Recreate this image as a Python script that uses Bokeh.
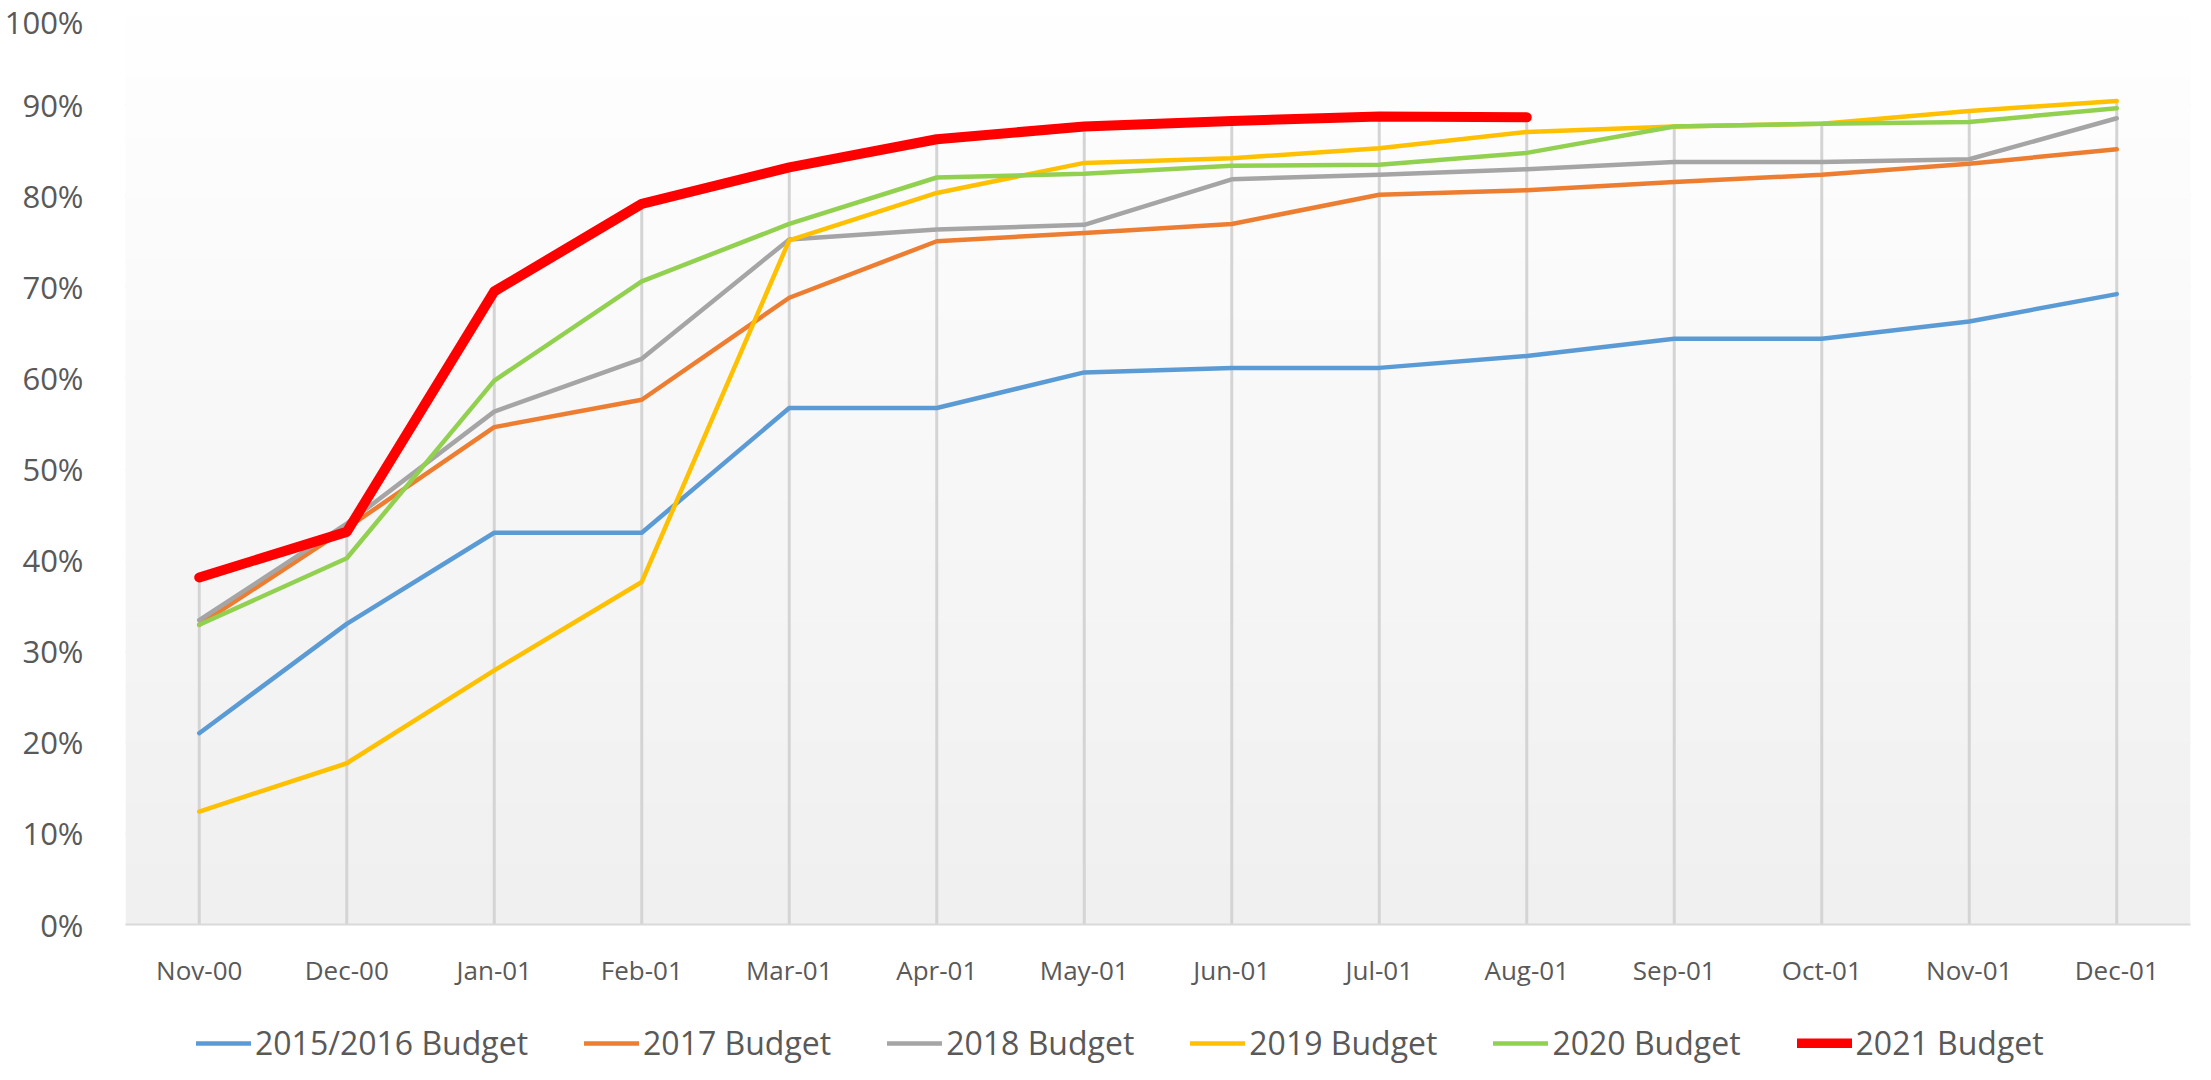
import numpy as np
from bokeh.plotting import figure
from bokeh.layouts import column
from bokeh.models import Range1d, FixedTicker, Legend, LegendItem
from bokeh.embed import file_html
from bokeh.resources import INLINE

months = ["Nov-00", "Dec-00", "Jan-01", "Feb-01", "Mar-01", "Apr-01", "May-01",
          "Jun-01", "Jul-01", "Aug-01", "Sep-01", "Oct-01", "Nov-01", "Dec-01"]

budget_2015_2016 = [0.210, 0.330, 0.430, 0.430, 0.567, 0.567, 0.606, 0.611, 0.611, 0.624, 0.643, 0.643, 0.662, 0.692]
budget_2017 = [0.329, 0.435, 0.546, 0.576, 0.688, 0.750, 0.759, 0.769, 0.801, 0.806, 0.815, 0.823, 0.835, 0.851]
budget_2018 = [0.334, 0.440, 0.563, 0.621, 0.752, 0.763, 0.768, 0.818, 0.823, 0.829, 0.837, 0.837, 0.840, 0.885]
budget_2019 = [0.124, 0.177, 0.279, 0.376, 0.751, 0.803, 0.836, 0.841, 0.852, 0.870, 0.876, 0.879, 0.893, 0.904]
budget_2020 = [0.329, 0.402, 0.597, 0.706, 0.769, 0.820, 0.824, 0.833, 0.834, 0.847, 0.876, 0.879, 0.881, 0.896]
budget_2021 = [0.381, 0.431, 0.695, 0.791, 0.831, 0.862, 0.876, 0.882, 0.887, 0.886]

series_names = ["2015/2016 Budget", "2017 Budget", "2018 Budget", "2019 Budget", "2020 Budget", "2021 Budget"]
series_values = [budget_2015_2016, budget_2017, budget_2018, budget_2019, budget_2020, budget_2021]
series_colors = ["#5B9BD5", "#ED7D31", "#A5A5A5", "#FFC000", "#92D050", "#FF0000"]
series_widths = [4.5, 4.5, 4.5, 4.5, 4.5, 10]

y_ticks = [0.0, 0.1, 0.2, 0.3, 0.4, 0.5, 0.6, 0.7, 0.8, 0.9, 1.0]
y_tick_labels = ["0%", "10%", "20%", "30%", "40%", "50%", "60%", "70%", "80%", "90%", "100%"]

FONT = "Open Sans"
TEXT_COLOR = "#595959"
W = 2195

p = figure(width=W, height=990, output_backend="svg", toolbar_location=None,
           x_range=Range1d(-0.5, len(months) - 0.5), y_range=Range1d(0, 1),
           min_border_left=125, min_border_right=5, min_border_top=13, min_border_bottom=66)
p.outline_line_color = None
p.background_fill_color = "white"
p.border_fill_color = "white"

# vertical gradient background of the plot area
n = 256
g = np.linspace(0xF0, 0xFF, n).astype(np.uint32)
img = np.zeros((n, 1), dtype=np.uint32)
view = img.view(dtype=np.uint8).reshape((n, 1, 4))
view[:, 0, 0] = g
view[:, 0, 1] = g
view[:, 0, 2] = g
view[:, 0, 3] = 255
p.image_rgba(image=[img], x=-0.5, y=0, dw=len(months), dh=1)

# drop lines from the highest series value at each month
xs = list(range(len(months)))
tops = []
for i in xs:
    vals = [s[i] for s in series_values if i < len(s)]
    tops.append(max(vals))
p.segment(x0=xs, y0=[0] * len(xs), x1=xs, y1=tops, line_color="#d4d4d4", line_width=3)

for name, vals, col, w in zip(series_names, series_values, series_colors, series_widths):
    p.line(list(range(len(vals))), vals, line_color=col, line_width=w,
           line_cap="round", line_join="round")

# axes
p.xaxis.ticker = FixedTicker(ticks=xs)
p.xaxis.major_label_overrides = {i: m for i, m in enumerate(months)}
p.xaxis.axis_line_color = "#d9d9d9"
p.xaxis.axis_line_width = 2
p.xaxis.major_tick_line_color = None
p.xaxis.minor_tick_line_color = None
p.xaxis.major_label_text_font = FONT
p.xaxis.major_label_text_font_size = "26px"
p.xaxis.major_label_text_color = TEXT_COLOR
p.xaxis.major_label_standoff = 21

p.yaxis.ticker = FixedTicker(ticks=y_ticks)
p.yaxis.major_label_overrides = {t: l for t, l in zip(y_ticks, y_tick_labels)}
p.yaxis.axis_line_color = None
p.yaxis.major_tick_line_color = None
p.yaxis.minor_tick_line_color = None
p.yaxis.major_label_text_font = FONT
p.yaxis.major_label_text_font_size = "31px"
p.yaxis.major_label_text_color = TEXT_COLOR
p.yaxis.major_label_standoff = 36

p.xgrid.visible = False
p.ygrid.ticker = FixedTicker(ticks=y_ticks)
p.ygrid.grid_line_color = "#d9d9d9"
p.ygrid.grid_line_width = 2

# legend strip below the chart (its line renderers lie outside its visible range)
lg = figure(width=W, height=74, output_backend="svg", toolbar_location=None,
            x_range=Range1d(100, 101), y_range=Range1d(100, 101),
            x_axis_type=None, y_axis_type=None,
            min_border_left=0, min_border_right=0, min_border_top=0, min_border_bottom=0)
lg.outline_line_color = None
lg.xgrid.visible = False
lg.ygrid.visible = False
items = []
for name, vals, col, w in zip(series_names, series_values, series_colors, series_widths):
    r = lg.line(list(range(len(vals))), vals, line_color=col, line_width=w, line_cap="round")
    items.append(LegendItem(label=name, renderers=[r]))

legend = Legend(items=items, orientation="horizontal", location=(71, 0), nrows=1,
                glyph_width=55, glyph_height=10, label_standoff=4, spacing=56,
                label_text_font=FONT, label_text_font_size="32px",
                label_text_color=TEXT_COLOR, border_line_color=None,
                background_fill_alpha=0, margin=0, padding=0)
lg.add_layout(legend, "center")

layout = column(p, lg, spacing=0)
open("out.html", "w").write(file_html(layout, INLINE))
